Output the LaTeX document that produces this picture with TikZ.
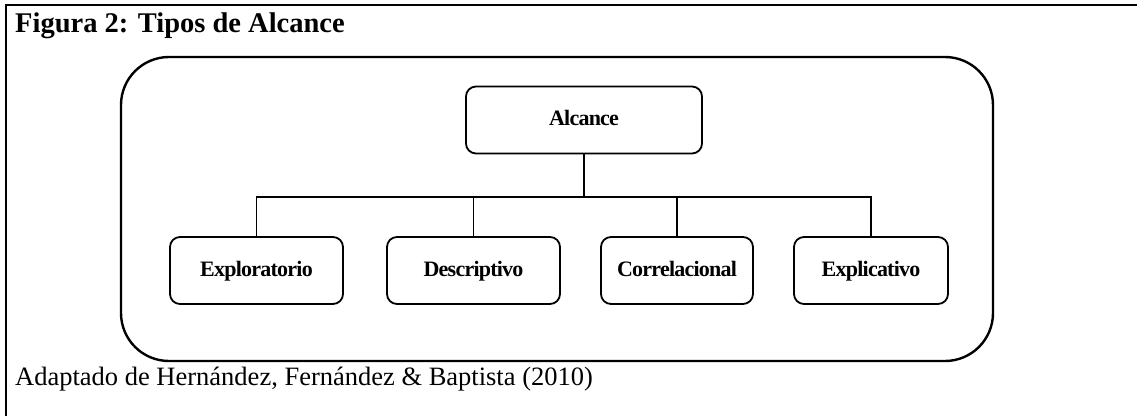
\documentclass[tikz,border=0pt]{standalone}
\usepackage{fontspec}
\setmainfont{Liberation Serif}
\begin{document}
\begin{tikzpicture}[x=1pt,y=-1pt,
  framebox/.style={draw,line width=2.4pt,rounded corners=48pt,minimum width=872pt,minimum height=304pt,inner sep=0pt},
  item/.style={draw,line width=1.8pt,rounded corners=10pt,minimum height=67pt,inner sep=0pt,
    text height=14.5pt,text depth=3pt,
    font=\fontsize{22}{25}\selectfont\bfseries\addfontfeature{LetterSpace=-3.5}},
  link/.style={line width=1.8pt}]
\useasboundingbox (0,0) rectangle (1137,416);
% cell border of the figure
\draw[line width=2.6pt] (1137,5) -- (6,5) -- (6,416);
% heading and source note
\node[anchor=base west,inner sep=0pt,font=\fontsize{28.5}{32}\selectfont\bfseries] (title) at (15,32) {Figura 2: Tipos de Alcance};
\node[anchor=base west,inner sep=0pt,font=\fontsize{26.5}{30}\selectfont] (source) at (15,385) {Adaptado de Hernández, Fernández \& Baptista (2010)};
% enclosing frame
\node[framebox] (frame) at (557,209) {};
% hierarchy
\node[item,minimum width=236pt] (alc) at (584,120) {Alcance};
\node[item,minimum width=173pt] (e1) at (256.5,270.5) {Exploratorio};
\node[item,minimum width=173pt] (e2) at (473.5,270.5) {Descriptivo};
\node[item,minimum width=152pt] (e3) at (677,270.5) {Correlacional};
\node[item,minimum width=154pt] (e4) at (871,270.5) {Explicativo};
\coordinate (bus) at (584,197);
\draw[link] (alc.south) -- (bus);
\draw[link] (e1.north) -- (e1.north |- bus) -- (e4.north |- bus) -- (e4.north);
\draw[link] (e2.north) -- (e2.north |- bus);
\draw[link] (e3.north) -- (e3.north |- bus);
\end{tikzpicture}
\end{document}
